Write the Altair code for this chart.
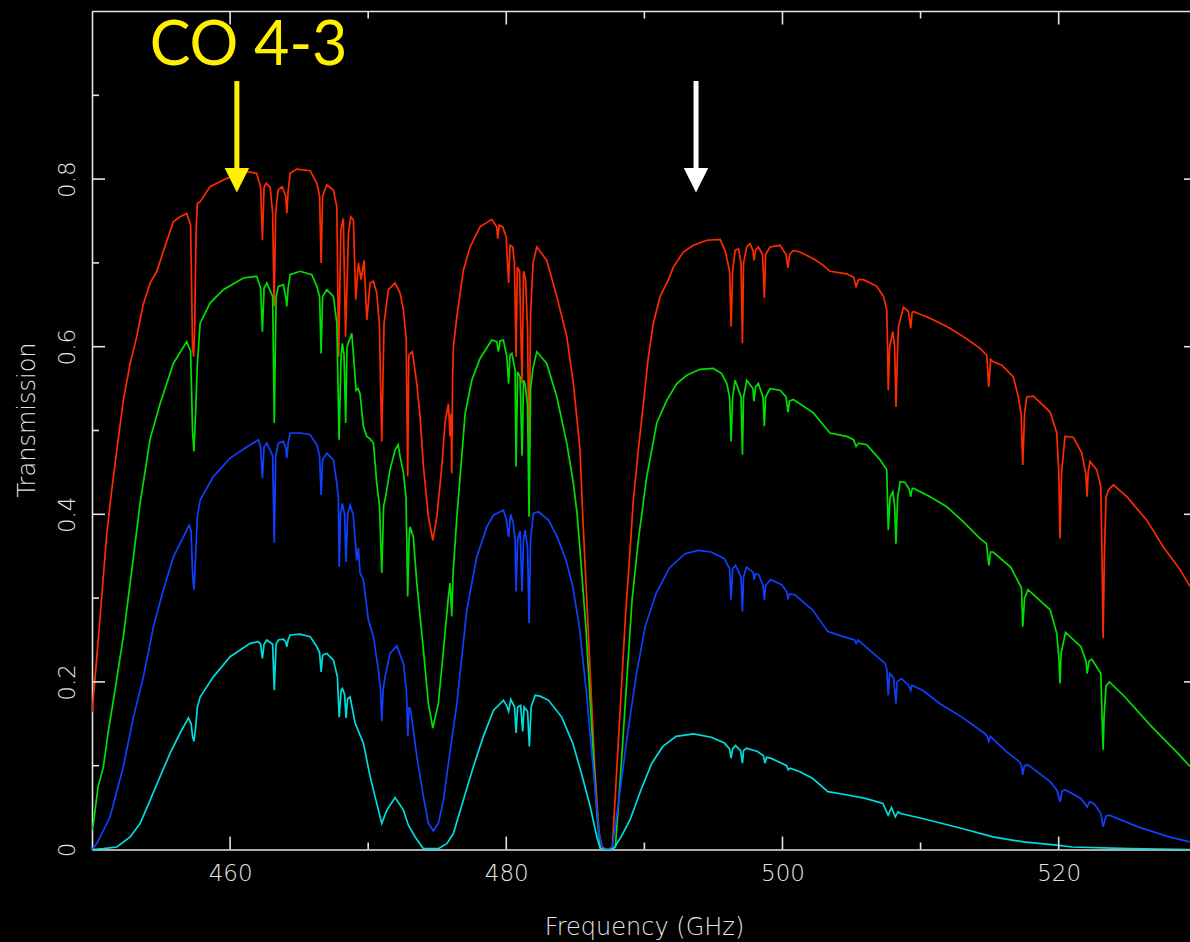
import altair as alt
import pandas as pd

# ---------------- data (frequency GHz, transmission) ----------------
RED = [(450.00,0.164),(450.30,0.22),(450.59,0.278),(451.07,0.377),(451.43,0.429),(451.80,0.477),(452.27,0.536),(452.76,0.58),(453.24,0.612),(453.70,0.65),(454.21,0.676),(454.69,0.69),(455.29,0.72),(455.89,0.749),(456.38,0.755),(456.86,0.759),(457.14,0.745),(457.28,0.60),(457.36,0.588),(457.43,0.62),(457.54,0.74),(457.63,0.771),(457.83,0.773),(458.55,0.791),(459.51,0.799),(460.36,0.805),(461.21,0.809),(461.93,0.807),(462.21,0.79),(462.34,0.727),(462.46,0.79),(462.61,0.795),(462.90,0.79),(463.08,0.76),(463.19,0.648),(463.30,0.76),(463.48,0.787),(463.77,0.791),(464.02,0.78),(464.11,0.759),(464.20,0.785),(464.35,0.807),(464.83,0.812),(465.80,0.81),(466.28,0.795),(466.48,0.78),(466.59,0.70),(466.70,0.78),(467.00,0.793),(467.48,0.787),(467.73,0.767),(467.86,0.588),(468.02,0.739),(468.20,0.753),(468.36,0.612),(468.57,0.735),(468.74,0.755),(468.93,0.751),(469.10,0.656),(469.29,0.70),(469.49,0.68),(469.70,0.703),(469.90,0.632),(470.14,0.676),(470.38,0.678),(470.62,0.664),(470.81,0.628),(470.98,0.487),(471.15,0.628),(471.46,0.668),(471.95,0.676),(472.31,0.664),(472.55,0.644),(472.75,0.61),(472.86,0.445),(472.94,0.59),(473.20,0.594),(473.52,0.556),(473.76,0.516),(474.00,0.457),(474.36,0.397),(474.68,0.369),(474.97,0.397),(475.33,0.457),(475.57,0.51),(475.81,0.532),(475.93,0.493),(476.00,0.52),(476.05,0.449),(476.11,0.56),(476.17,0.6),(476.42,0.636),(476.89,0.691),(477.38,0.719),(478.10,0.743),(478.95,0.752),(479.31,0.743),(479.38,0.729),(479.48,0.745),(479.75,0.743),(479.99,0.731),(480.17,0.676),(480.27,0.721),(480.47,0.719),(480.59,0.70),(480.71,0.588),(480.80,0.695),(480.96,0.69),(481.14,0.556),(481.25,0.69),(481.40,0.68),(481.54,0.62),(481.65,0.457),(481.76,0.64),(481.94,0.70),(482.21,0.719),(482.93,0.703),(483.66,0.66),(484.38,0.612),(484.86,0.556),(485.34,0.477),(485.54,0.397),(485.92,0.266),(486.40,0.099),(486.72,0.02),(486.94,0.003),(487.23,0.0),(487.45,0.0),(487.68,0.003),(488.15,0.139),(488.63,0.278),(488.96,0.357),(489.20,0.417),(489.56,0.477),(489.93,0.532),(490.29,0.588),(490.65,0.628),(491.14,0.66),(491.74,0.68),(492.10,0.695),(492.82,0.713),(493.55,0.721),(494.52,0.727),(495.48,0.728),(495.84,0.715),(496.17,0.69),(496.28,0.624),(496.39,0.69),(496.57,0.715),(496.81,0.717),(497.00,0.70),(497.10,0.604),(497.18,0.70),(497.41,0.719),(497.65,0.723),(497.86,0.715),(497.94,0.703),(498.05,0.715),(498.25,0.719),(498.56,0.71),(498.69,0.658),(498.78,0.71),(499.10,0.719),(499.83,0.721),(500.26,0.71),(500.40,0.694),(500.51,0.71),(500.79,0.715),(501.27,0.713),(502.24,0.705),(502.96,0.697),(503.44,0.69),(504.65,0.687),(505.15,0.683),(505.33,0.672),(505.51,0.68),(505.86,0.68),(506.83,0.672),(507.31,0.66),(507.55,0.644),(507.61,0.60),(507.66,0.548),(507.76,0.60),(507.99,0.618),(508.12,0.60),(508.22,0.528),(508.34,0.60),(508.40,0.624),(508.76,0.647),(509.12,0.642),(509.29,0.622),(509.38,0.64),(509.48,0.642),(510.69,0.634),(511.90,0.624),(513.10,0.612),(514.31,0.598),(514.79,0.59),(514.94,0.552),(515.07,0.585),(515.27,0.582),(515.88,0.578),(516.72,0.564),(517.08,0.54),(517.28,0.52),(517.40,0.459),(517.53,0.52),(517.69,0.54),(518.17,0.541),(519.38,0.522),(519.86,0.497),(520.01,0.45),(520.10,0.371),(520.21,0.45),(520.46,0.493),(521.06,0.492),(521.67,0.473),(521.95,0.45),(522.06,0.421),(522.13,0.45),(522.27,0.463),(522.76,0.453),(523.05,0.433),(523.14,0.35),(523.22,0.252),(523.31,0.35),(523.43,0.42),(523.60,0.429),(523.96,0.435),(524.93,0.421),(526.38,0.393),(527.58,0.361),(528.79,0.334),(529.51,0.314)]

GREEN = [(450.00,0.023),(450.10,0.031),(450.44,0.075),(450.83,0.099),(451.17,0.14),(451.55,0.178),(452.27,0.254),(453.00,0.349),(453.48,0.413),(454.21,0.49),(454.93,0.532),(455.89,0.58),(456.86,0.606),(457.14,0.595),(457.28,0.50),(457.38,0.475),(457.50,0.52),(457.63,0.58),(457.83,0.628),(458.55,0.652),(459.51,0.668),(460.96,0.682),(461.93,0.684),(462.21,0.67),(462.34,0.618),(462.46,0.67),(462.66,0.676),(463.08,0.66),(463.20,0.509),(463.33,0.66),(463.50,0.672),(463.86,0.674),(464.02,0.66),(464.11,0.648),(464.20,0.67),(464.35,0.686),(465.07,0.69),(465.92,0.686),(466.28,0.672),(466.48,0.66),(466.59,0.592),(466.70,0.66),(467.00,0.668),(467.48,0.66),(467.73,0.628),(467.89,0.489),(468.04,0.59),(468.13,0.604),(468.25,0.59),(468.37,0.509),(468.47,0.60),(468.81,0.616),(468.98,0.58),(469.12,0.548),(469.27,0.55),(469.41,0.544),(469.65,0.505),(469.90,0.493),(470.14,0.49),(470.38,0.485),(470.62,0.437),(470.82,0.41),(470.98,0.33),(471.12,0.41),(471.22,0.417),(471.58,0.453),(471.95,0.477),(472.17,0.483),(472.31,0.469),(472.55,0.45),(472.74,0.42),(472.86,0.302),(472.96,0.37),(473.03,0.385),(473.27,0.373),(473.52,0.318),(474.00,0.238),(474.36,0.174),(474.68,0.145),(475.08,0.174),(475.45,0.238),(475.81,0.302),(475.93,0.318),(476.05,0.278),(476.15,0.33),(476.42,0.397),(476.73,0.46),(477.02,0.52),(477.50,0.56),(478.10,0.586),(478.95,0.608),(479.31,0.606),(479.43,0.594),(479.55,0.607),(479.79,0.608),(480.04,0.588),(480.17,0.556),(480.27,0.59),(480.40,0.592),(480.64,0.572),(480.71,0.457),(480.82,0.57),(481.00,0.564),(481.14,0.47),(481.25,0.56),(481.36,0.556),(481.54,0.53),(481.65,0.397),(481.76,0.55),(481.94,0.575),(482.21,0.594),(482.93,0.58),(483.66,0.54),(484.38,0.485),(484.86,0.437),(485.13,0.40),(485.34,0.357),(485.76,0.266),(486.24,0.131),(486.57,0.04),(486.79,0.003),(487.16,0.0),(487.52,0.0),(487.90,0.003),(488.24,0.08),(488.63,0.178),(489.11,0.298),(489.57,0.37),(490.17,0.445),(490.90,0.509),(491.62,0.536),(492.35,0.556),(493.07,0.566),(494.03,0.573),(495.00,0.574),(495.60,0.568),(495.97,0.556),(496.17,0.54),(496.28,0.487),(496.39,0.54),(496.57,0.56),(497.00,0.54),(497.10,0.471),(497.18,0.54),(497.41,0.56),(497.86,0.55),(497.94,0.535),(498.05,0.552),(498.25,0.556),(498.59,0.54),(498.69,0.505),(498.78,0.54),(499.10,0.55),(499.83,0.548),(500.26,0.54),(500.40,0.522),(500.51,0.535),(500.79,0.537),(502.24,0.521),(503.44,0.497),(504.65,0.493),(505.15,0.489),(505.33,0.481),(505.51,0.485),(506.10,0.483),(507.07,0.465),(507.55,0.453),(507.66,0.381),(507.79,0.42),(507.99,0.427),(508.12,0.41),(508.22,0.365),(508.34,0.42),(508.52,0.439),(508.88,0.438),(509.17,0.43),(509.29,0.421),(509.38,0.43),(509.48,0.431),(510.69,0.421),(511.90,0.409),(513.10,0.391),(514.31,0.371),(514.77,0.365),(514.94,0.339),(515.07,0.355),(515.25,0.355),(516.52,0.337),(517.31,0.312),(517.40,0.266),(517.53,0.30),(517.78,0.31),(519.38,0.286),(519.86,0.258),(520.01,0.23),(520.10,0.198),(520.18,0.235),(520.50,0.259),(521.61,0.242),(521.98,0.225),(522.06,0.21),(522.20,0.225),(522.41,0.227),(523.05,0.21),(523.14,0.16),(523.22,0.119),(523.29,0.16),(523.43,0.195),(523.68,0.2),(524.80,0.182),(526.71,0.147),(528.62,0.115),(529.51,0.099)]

BLUE = [(450.00,0.0),(450.35,0.007),(451.31,0.039),(452.27,0.099),(453.00,0.158),(453.72,0.206),(454.45,0.266),(455.17,0.31),(455.89,0.349),(456.62,0.373),(457.03,0.387),(457.18,0.38),(457.28,0.33),(457.38,0.31),(457.50,0.35),(457.63,0.397),(457.83,0.417),(458.79,0.445),(460.00,0.467),(461.45,0.483),(462.05,0.489),(462.21,0.48),(462.34,0.443),(462.46,0.48),(462.66,0.485),(463.08,0.47),(463.20,0.366),(463.30,0.47),(463.50,0.485),(463.86,0.487),(464.02,0.48),(464.11,0.467),(464.20,0.485),(464.35,0.497),(465.07,0.497),(465.80,0.495),(466.28,0.483),(466.48,0.47),(466.59,0.423),(466.70,0.465),(467.00,0.473),(467.48,0.465),(467.73,0.437),(467.84,0.42),(467.90,0.337),(468.00,0.40),(468.13,0.413),(468.29,0.40),(468.40,0.343),(468.51,0.40),(468.69,0.411),(468.91,0.40),(469.17,0.345),(469.29,0.36),(469.41,0.33),(469.65,0.322),(470.01,0.274),(470.38,0.254),(470.74,0.214),(470.90,0.19),(470.98,0.153),(471.08,0.19),(471.22,0.206),(471.58,0.234),(472.07,0.243),(472.55,0.222),(472.77,0.19),(472.87,0.135),(472.96,0.17),(473.08,0.166),(473.52,0.111),(474.00,0.063),(474.36,0.031),(474.72,0.022),(475.08,0.031),(475.45,0.059),(475.81,0.103),(476.42,0.174),(477.14,0.286),(477.86,0.349),(478.59,0.385),(479.07,0.399),(479.79,0.405),(479.99,0.395),(480.17,0.373),(480.31,0.40),(480.51,0.389),(480.64,0.37),(480.71,0.308),(480.82,0.37),(481.00,0.38),(481.14,0.308),(481.25,0.37),(481.36,0.381),(481.54,0.36),(481.65,0.27),(481.76,0.37),(481.96,0.401),(482.32,0.403),(483.06,0.393),(483.69,0.373),(484.33,0.345),(484.81,0.314),(485.29,0.266),(485.76,0.194),(486.24,0.107),(486.72,0.019),(486.94,0.001),(487.23,0.0),(487.45,0.0),(487.68,0.003),(488.15,0.059),(488.79,0.139),(489.43,0.21),(490.06,0.266),(490.86,0.306),(491.82,0.336),(492.93,0.353),(493.89,0.357),(494.84,0.355),(495.80,0.347),(496.17,0.335),(496.28,0.298),(496.39,0.335),(496.60,0.339),(497.00,0.325),(497.10,0.284),(497.18,0.325),(497.39,0.337),(497.87,0.331),(497.94,0.322),(498.05,0.329),(498.28,0.328),(498.59,0.315),(498.69,0.298),(498.78,0.315),(499.14,0.322),(499.94,0.316),(500.30,0.308),(500.40,0.30),(500.51,0.305),(500.90,0.304),(502.17,0.286),(503.29,0.26),(504.40,0.254),(505.22,0.25),(505.33,0.246),(505.47,0.25),(506.31,0.238),(507.43,0.222),(507.55,0.215),(507.66,0.184),(507.76,0.21),(508.04,0.205),(508.22,0.174),(508.30,0.2),(508.61,0.204),(509.13,0.196),(509.29,0.19),(509.37,0.196),(510.14,0.19),(511.41,0.174),(513.00,0.158),(514.60,0.139),(514.80,0.136),(514.94,0.129),(515.05,0.135),(516.19,0.117),(517.15,0.105),(517.30,0.1),(517.40,0.089),(517.52,0.1),(517.78,0.101),(519.38,0.081),(519.86,0.071),(520.10,0.057),(520.25,0.07),(520.50,0.071),(521.61,0.061),(522.06,0.051),(522.24,0.057),(522.56,0.055),(523.05,0.043),(523.22,0.027),(523.43,0.04),(523.68,0.041),(525.75,0.027),(527.98,0.015),(529.51,0.009)]

CYAN = [(450.00,0.0),(450.83,0.001),(451.80,0.003),(452.76,0.015),(453.48,0.031),(454.21,0.059),(454.93,0.087),(455.66,0.115),(456.38,0.139),(456.98,0.157),(457.18,0.15),(457.28,0.135),(457.38,0.129),(457.50,0.145),(457.63,0.17),(457.83,0.182),(458.79,0.206),(460.00,0.23),(461.45,0.246),(462.05,0.248),(462.21,0.245),(462.34,0.228),(462.46,0.245),(462.66,0.25),(463.08,0.245),(463.20,0.19),(463.33,0.245),(463.50,0.25),(463.86,0.251),(464.02,0.248),(464.11,0.242),(464.20,0.25),(464.35,0.256),(465.07,0.257),(465.80,0.254),(466.28,0.242),(466.48,0.235),(466.59,0.212),(466.70,0.232),(467.00,0.234),(467.48,0.226),(467.77,0.206),(467.90,0.158),(468.04,0.19),(468.13,0.192),(468.29,0.185),(468.40,0.157),(468.51,0.18),(468.69,0.182),(469.05,0.151),(469.65,0.127),(470.14,0.087),(470.62,0.055),(470.98,0.031),(471.35,0.047),(471.95,0.062),(472.55,0.047),(472.91,0.029),(473.40,0.015),(474.00,0.001),(475.08,0.001),(475.69,0.007),(476.17,0.019),(476.89,0.059),(477.62,0.099),(478.34,0.135),(479.07,0.166),(479.79,0.178),(480.02,0.172),(480.17,0.165),(480.33,0.179),(480.60,0.17),(480.71,0.139),(480.82,0.17),(481.04,0.172),(481.19,0.141),(481.29,0.17),(481.54,0.165),(481.67,0.123),(481.80,0.17),(482.09,0.184),(482.45,0.183),(483.06,0.178),(484.01,0.158),(484.81,0.127),(485.44,0.091),(486.08,0.051),(486.56,0.015),(486.81,0.001),(487.23,0.0),(487.52,0.0),(487.77,0.001),(488.31,0.015),(488.95,0.035),(489.75,0.071),(490.54,0.103),(491.34,0.123),(492.30,0.135),(493.57,0.138),(494.84,0.134),(495.80,0.127),(496.17,0.12),(496.28,0.109),(496.39,0.12),(496.60,0.124),(496.97,0.118),(497.10,0.103),(497.18,0.118),(497.39,0.121),(498.19,0.117),(498.62,0.112),(498.73,0.103),(498.85,0.11),(499.14,0.109),(499.94,0.103),(500.30,0.1),(500.42,0.095),(500.55,0.097),(501.22,0.093),(502.17,0.085),(503.29,0.069),(504.72,0.065),(506.00,0.061),(507.27,0.055),(507.65,0.041),(507.90,0.05),(508.17,0.039),(508.37,0.045),(508.55,0.043),(510.14,0.037),(513.00,0.025),(515.24,0.015),(517.47,0.009),(520.02,0.005),(520.97,0.003),(525.17,0.001),(529.51,0.0)]

SERIES = [("red", RED, "#ff2a00"), ("green", GREEN, "#00e000"),
          ("blue", BLUE, "#1040ff"), ("cyan", CYAN, "#00dcdc")]

X_MAJOR = [460, 480, 500, 520]
X_MINOR = [470, 490, 510]
Y_MAJOR = [0.2, 0.4, 0.6, 0.8]
Y_MINOR = [0.1, 0.3, 0.5, 0.7, 0.9]
Y_LABELS = [0, 0.2, 0.4, 0.6, 0.8]

ARROW_F = [460.49, 493.74]
ARROW_COLOR = ["#fff000", "#ffffff"]
ARROW_TOP = 0.917
ARROW_SHAFT_END = 0.81
ARROW_HEAD = 0.7986
LABEL_TEXT = "CO 4-3"
LABEL_F = 461.34
LABEL_T = 0.936

# ---------------- layout ----------------
W, H = 1098, 838
AX = "#e4e4e4"
FONT = "DejaVu Sans"
XS = alt.Scale(domain=[450, 529.51], nice=False, zero=False)
YS = alt.Scale(domain=[0, 1], nice=False, zero=False)

XAX = alt.Axis(values=X_MAJOR, ticks=False, grid=False, domainColor=AX, domainWidth=1.6,
               labelColor=AX, labelFont=FONT, labelFontSize=23, labelFontWeight=200,
               labelPadding=13, labelFlush=False, labelOverlap=False,
               title="Frequency (GHz)", titleColor=AX, titleFont=FONT, titleFontSize=24,
               titleFontWeight=200, titleX=552, titleY=78, titleAlign="center",
               titleBaseline="middle")
YAX = alt.Axis(values=Y_LABELS, format=".1~f", ticks=False, grid=False, domainColor=AX,
               domainWidth=1.6, labelColor=AX, labelFont=FONT, labelFontSize=23,
               labelFontWeight=200, labelAngle=270, labelAlign="center",
               labelBaseline="alphabetic", labelPadding=18, labelFlush=False,
               labelOverlap=False, title="Transmission", titleColor=AX, titleFont=FONT,
               titleFontSize=24, titleFontWeight=200, titleAngle=270, titleX=-65,
               titleY=H / 2 - 11, titleAlign="center", titleBaseline="middle")

layers = []
for name, pts, col in SERIES:
    df = pd.DataFrame(pts, columns=["f", "t"])
    layers.append(
        alt.Chart(df).mark_line(color=col, strokeWidth=1.7, clip=True).encode(
            x=alt.X("f:Q", scale=XS, axis=XAX),
            y=alt.Y("t:Q", scale=YS, axis=YAX),
        )
    )

# inward ticks (frame style)
def xticks(vals, length):
    d = pd.DataFrame({"v": vals})
    bottom = alt.Chart(d).mark_rule(color=AX, strokeWidth=1.6).encode(
        x=alt.X("v:Q", scale=XS, axis=XAX), y=alt.value(H), y2=alt.value(H - length))
    top = alt.Chart(d).mark_rule(color=AX, strokeWidth=1.6).encode(
        x=alt.X("v:Q", scale=XS, axis=XAX), y=alt.value(0), y2=alt.value(length))
    return [bottom, top]

def yticks(vals, length, right_len):
    d = pd.DataFrame({"v": vals})
    out = [alt.Chart(d).mark_rule(color=AX, strokeWidth=1.6).encode(
        y=alt.Y("v:Q", scale=YS, axis=YAX), x=alt.value(0), x2=alt.value(length))]
    if right_len > 0:
        out.append(alt.Chart(d).mark_rule(color=AX, strokeWidth=1.6).encode(
            y=alt.Y("v:Q", scale=YS, axis=YAX), x=alt.value(W - right_len), x2=alt.value(W)))
    return out

tick_layers = xticks(X_MAJOR, 13) + xticks(X_MINOR, 7) + yticks(Y_MAJOR, 13, 6) + yticks(Y_MINOR, 7, 0)

frame_top = alt.Chart(pd.DataFrame({"a": [0]})).mark_rule(color=AX, strokeWidth=1.6).encode(
    x=alt.value(0), x2=alt.value(W), y=alt.value(0))

# annotations
adf = pd.DataFrame({"f": ARROW_F, "c": ARROW_COLOR,
                    "top": [ARROW_TOP] * 2, "end": [ARROW_SHAFT_END] * 2,
                    "head": [ARROW_HEAD] * 2})
shafts = alt.Chart(adf).mark_rule(strokeWidth=5).encode(
    x=alt.X("f:Q", scale=XS, axis=XAX), y=alt.Y("top:Q", scale=YS, axis=YAX), y2="end:Q",
    color=alt.Color("c:N", scale=None))
heads = alt.Chart(adf).mark_point(shape="M-1,-1L1,-1L0,1Z", filled=True, size=600,
                                  opacity=1, strokeWidth=0).encode(
    x=alt.X("f:Q", scale=XS, axis=XAX), y=alt.Y("head:Q", scale=YS, axis=YAX),
    color=alt.Color("c:N", scale=None))
label = alt.Chart(pd.DataFrame({"f": [LABEL_F], "t": [LABEL_T], "s": [LABEL_TEXT]})).mark_text(
    font="Lato", fontSize=61, color="#fff000", align="center", baseline="alphabetic").encode(
    x=alt.X("f:Q", scale=XS, axis=XAX), y=alt.Y("t:Q", scale=YS, axis=YAX), text="s:N")

chart = alt.layer(*layers, *tick_layers, frame_top, shafts, heads, label).properties(
    width=W, height=H, background="black",
    padding={"left": 92, "top": 11.5, "right": 0, "bottom": 92.5},
    autosize=alt.AutoSizeParams(type="none"),
).configure_view(strokeWidth=0)

chart.save("out.html", embed_options={"renderer": "svg", "actions": False})
